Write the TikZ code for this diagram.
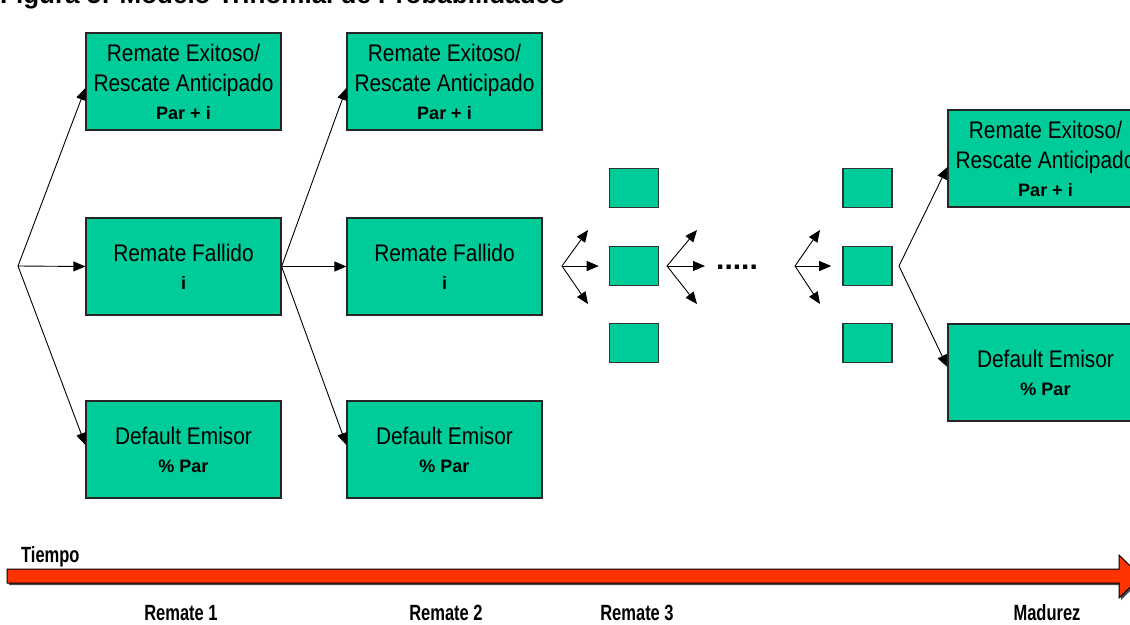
\documentclass[tikz,border=0pt]{standalone}
\usepackage{fontspec}
\setmainfont{Liberation Sans}
\newfontfamily\boxfont[FakeStretch=0.87]{Liberation Sans}
\newfontfamily\axisfont[FakeStretch=0.75]{Liberation Sans}
\usetikzlibrary{arrows.meta,calc}
\definecolor{boxgreen}{RGB}{0,204,153}
\definecolor{timered}{RGB}{255,51,0}
\newcommand\valtext[1]{{\normalfont\bfseries\fontsize{18}{28}\selectfont #1}}

\begin{document}
\begin{tikzpicture}[x=1pt,y=-1pt,
  bigbox/.style={draw=black!85,line width=1.2pt,fill=boxgreen,
    minimum width=195pt,minimum height=97pt,inner sep=0pt,align=center,
    font=\boxfont\fontsize{24}{28}\selectfont},
  smallbox/.style={draw=black!80,line width=1.6pt,fill=boxgreen,
    minimum width=49pt,minimum height=39pt,inner sep=0pt},
  arr/.style={line width=0.9pt,-{Triangle[length=12pt,width=10pt]}},
  axislabel/.style={font=\axisfont\bfseries\fontsize{22}{26}\selectfont,anchor=base,inner sep=0pt}]

\useasboundingbox (0,0) rectangle (1130,624);
\fill[white] (0,0) rectangle (1130,624);
\clip (0,0) rectangle (1130,624);

% title, partly above the page edge
\node[anchor=base west,inner sep=0pt,font=\bfseries\fontsize{26}{30}\selectfont]
  (title) at (0,3.5) {Figura 5: Modelo Trinomial de Probabilidades};

% first period
\node[bigbox] (t1) at (183.5,81.5) {Remate Exitoso/\\[2pt] Rescate Anticipado\\ \valtext{Par + i}};
\node[bigbox] (m1) at (183.5,266.5) {Remate Fallido\\ \valtext{i}};
\node[bigbox] (b1) at (183.5,449.5) {Default Emisor\\ \valtext{\% Par}};

% second period
\node[bigbox] (t2) at (444.5,81.5) {Remate Exitoso/\\[2pt] Rescate Anticipado\\ \valtext{Par + i}};
\node[bigbox] (m2) at (444.5,266.5) {Remate Fallido\\ \valtext{i}};
\node[bigbox] (b2) at (444.5,449.5) {Default Emisor\\ \valtext{\% Par}};

% intermediate periods
\node[smallbox] (s1t) at (634,188) {};
\node[smallbox] (s1m) at (634,266) {};
\node[smallbox] (s1b) at (634,343) {};
\node[smallbox] (s2t) at (867.5,188) {};
\node[smallbox] (s2m) at (867.5,266) {};
\node[smallbox] (s2b) at (867.5,343) {};
\node[inner sep=0pt,font=\bfseries\fontsize{30}{30}\selectfont] (dots) at (737,267) {.....};

% maturity
\node[bigbox] (t3) at (1045.5,158.5) {Remate Exitoso/\\[2pt] Rescate Anticipado\\ \valtext{Par + i}};
\node[bigbox] (b3) at (1045.5,372.5) {Default Emisor\\ \valtext{\% Par}};

% branching points
\coordinate (o1) at (18,266);
\coordinate (f1) at (562,266);
\coordinate (f1u) at (588,230);
\coordinate (f1d) at (588,304);
\coordinate (f2) at (667,266);
\coordinate (f2u) at (697,230);
\coordinate (f2m) at (705,266);
\coordinate (f2d) at (697,304);
\coordinate (f3) at (795,266);
\coordinate (f3u) at (820,230);
\coordinate (f3d) at (820,304);
\coordinate (f4) at (899,266);

\draw[arr] (o1) -- ($(t1.west)+(0,6.5)$);
\draw[arr] (o1) -- (m1.west);
\draw[arr] (o1) -- ($(b1.west)+(0,-4.5)$);

\draw[arr] (m1.east) -- ($(t2.west)+(0,6.5)$);
\draw[arr] (m1.east) -- (m2.west);
\draw[arr] (m1.east) -- ($(b2.west)+(0,-4.5)$);

\draw[arr] (f1) -- (f1u);
\draw[arr] (f1) -- ($(s1m.west)+(-10,0)$);
\draw[arr] (f1) -- (f1d);

\draw[arr] (f2) -- (f2u);
\draw[arr] (f2) -- (f2m);
\draw[arr] (f2) -- (f2d);

\draw[arr] (f3) -- (f3u);
\draw[arr] (f3) -- ($(s2m.west)+(-11,0)$);
\draw[arr] (f3) -- (f3d);

\draw[arr] (f4) -- ($(t3.west)+(0,8.5)$);
\draw[arr] (f4) -- ($(b3.west)+(0,-5.5)$);

% time axis
\fill[black!70] (9,571) -- (1121,571) -- (1121,557) -- (1143,578.5) -- (1121,600)
  -- (1121,585) -- (9,585) -- cycle;
\draw[fill=timered,line width=1pt] (7,569) -- (1119,569) -- (1119,555) -- (1141,576.5)
  -- (1119,598) -- (1119,583) -- (7,583) -- cycle;

\node[axislabel,anchor=base west] (tiempo) at (21,562) {Tiempo};
\node[axislabel] (r1) at (181,620) {Remate 1};
\node[axislabel] (r2) at (446,620) {Remate 2};
\node[axislabel] (r3) at (637,620) {Remate 3};
\node[axislabel] (mad) at (1047,620) {Madurez};
\end{tikzpicture}
\end{document}
